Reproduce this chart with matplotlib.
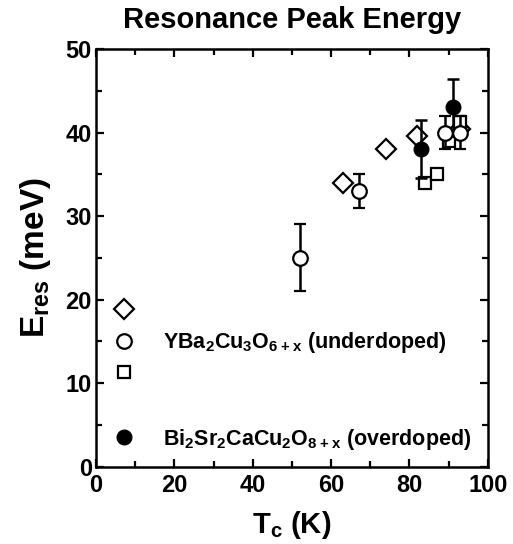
import matplotlib.pyplot as plt
from matplotlib.lines import Line2D
from matplotlib.ticker import MultipleLocator

plt.rcParams['font.family'] = 'Liberation Sans'
plt.rcParams['font.weight'] = 'bold'
plt.rcParams['axes.labelweight'] = 'bold'
plt.rcParams['mathtext.fontset'] = 'custom'
plt.rcParams['mathtext.rm'] = 'Liberation Sans:bold'
plt.rcParams['mathtext.bf'] = 'Liberation Sans:bold'
plt.rcParams['mathtext.default'] = 'bf'

# YBCO (underdoped), three data sets
tc_diamond = [63, 74, 82, 93]
e_diamond = [34, 38, 39.6, 40.4]
tc_circle = [52, 67, 89, 93]
e_circle = [25, 33, 40, 40]
err_circle = [4, 2, 2, 2]
tc_square = [84, 87, 90, 93]
e_square = [34, 35, 39, 41.2]
# Bi2212 (overdoped)
tc_bi = [83, 91]
e_bi = [38, 43]
err_bi = [3.5, 3.4]

fig = plt.figure(figsize=(5.13, 5.44), dpi=100)
ax = fig.add_axes([0.187, 0.142, 0.764, 0.768])

ms = 10.5
ms_d = 10
ms_s = 9
ax.plot(tc_diamond, e_diamond, 'D', ms=ms_d, mfc='white', mec='black', mew=1.6, ls='none')
ax.plot(tc_square, e_square, 's', ms=ms_s, mfc='white', mec='black', mew=1.6, ls='none')
ax.errorbar(tc_circle, e_circle, yerr=err_circle, fmt='o', ms=ms, mfc='white', mec='black',
            mew=1.6, ecolor='black', elinewidth=1.8, capsize=4.5, capthick=1.8)
ax.errorbar(tc_bi, e_bi, yerr=err_bi, fmt='o', ms=ms, mfc='black', mec='black',
            ecolor='black', elinewidth=1.8, capsize=4.5, capthick=1.8)

ax.set_xlim(0, 100)
ax.set_ylim(0, 50)
ax.xaxis.set_major_locator(MultipleLocator(20))
ax.xaxis.set_minor_locator(MultipleLocator(10))
ax.yaxis.set_major_locator(MultipleLocator(10))
ax.yaxis.set_minor_locator(MultipleLocator(5))
ax.tick_params(which='both', direction='in', top=True, right=True, width=1.6,
               labelsize=17, pad=3)
ax.tick_params(axis='x', which='major', pad=5)
ax.tick_params(which='major', length=6)
ax.tick_params(which='minor', length=4)
for s in ax.spines.values():
    s.set_linewidth(1.8)

ax.set_xlabel('T$_c$ (K)', fontsize=21, labelpad=9)
ax.set_ylabel('E$_{res}$ (meV)', fontsize=24, labelpad=9)
ax.set_title('Resonance Peak Energy', fontsize=21, fontweight='bold', pad=15)

h1 = [Line2D([], [], marker='D', ms=ms_d, mfc='white', mec='black', mew=1.6, ls='none'),
      Line2D([], [], marker='o', ms=ms, mfc='white', mec='black', mew=1.6, ls='none'),
      Line2D([], [], marker='s', ms=ms_s, mfc='white', mec='black', mew=1.6, ls='none')]
leg1 = ax.legend(h1, ['', 'YBa$_2$Cu$_3$O$_{6+x}$ (underdoped)', ''], loc='upper left',
                 bbox_to_anchor=(0.0, 0.434), frameon=False, fontsize=15.5,
                 handlelength=1.2, handletextpad=1.2, labelspacing=0.4, borderaxespad=0.3)
ax.add_artist(leg1)
h2 = [Line2D([], [], marker='o', ms=ms, mfc='black', mec='black', ls='none')]
ax.legend(h2, ['Bi$_2$Sr$_2$CaCu$_2$O$_{8+x}$ (overdoped)'], loc='upper left',
          bbox_to_anchor=(0.0, 0.132), frameon=False, fontsize=15.5,
          handlelength=1.2, handletextpad=1.2, borderaxespad=0.3)

fig.savefig('out.png', dpi=100)
